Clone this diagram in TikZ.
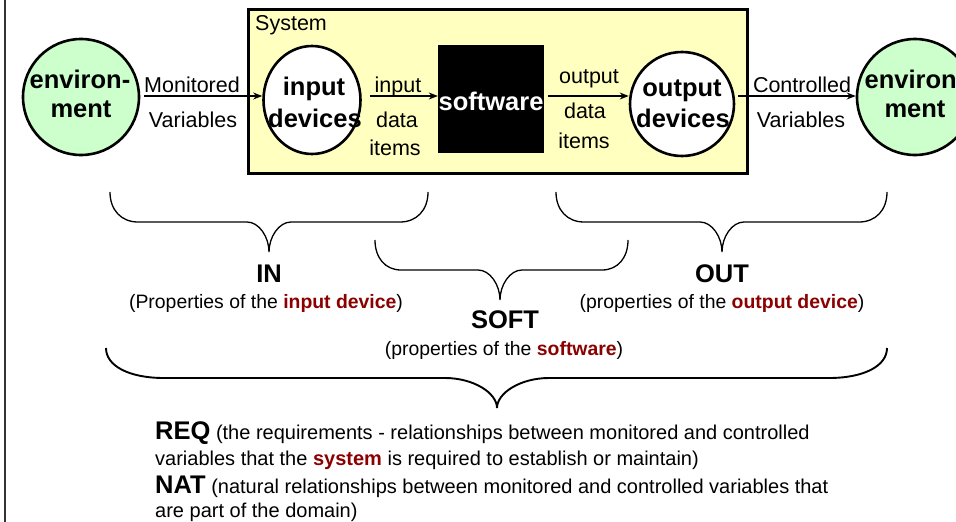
\documentclass[tikz,border=0pt]{standalone}
\usepackage{fontspec}
\setmainfont{Liberation Sans}
\usetikzlibrary{arrows.meta,shapes.geometric}

\definecolor{sysfill}{HTML}{FFFFC0}
\definecolor{envfill}{HTML}{CCFFCC}
\definecolor{hilite}{HTML}{8B0000}

% curly brace: left x, right x, top y, bar y, tip x, tip y, corner width, tip width, style
\newcommand\drawcurly[9]{%
  \draw[#9] (#1,#3) .. controls (#1,{#3+0.6*(#4-#3)}) and ({#1+0.4*#7},#4) .. ({#1+#7},#4)
    -- ({#5-#8},#4) .. controls ({#5-0.45*#8},#4) and (#5,{#4+0.5*(#6-#4)}) .. (#5,#6)
    .. controls (#5,{#4+0.5*(#6-#4)}) and ({#5+0.45*#8},#4) .. ({#5+#8},#4)
    -- ({#2-#7},#4) .. controls ({#2-0.4*#7},#4) and (#2,{#3+0.6*(#4-#3)}) .. (#2,#3);}

\begin{document}
\begin{tikzpicture}[x=1pt,y=-1pt,
  envcirc/.style={circle, draw, line width=2.6pt, fill=envfill, minimum size=116pt, inner sep=0pt},
  devcirc/.style={ellipse, draw, line width=2.6pt, fill=white, inner sep=0pt},
  sysbox/.style={rectangle, draw, line width=3pt, fill=sysfill, inner sep=0pt},
  swbox/.style={rectangle, fill=black, inner sep=0pt},
  lbl/.style={font=\fontsize{21.5}{25}\selectfont, inner sep=0pt, anchor=base},
  bigbf/.style={font=\fontsize{25.5}{30}\selectfont\bfseries, inner sep=0pt, anchor=base},
  prop/.style={font=\fontsize{19.4}{23}\selectfont, inner sep=0pt, anchor=base},
  reqtxt/.style={font=\fontsize{20}{24}\selectfont, inner sep=0pt, anchor=base west},
  arr/.style={line width=1.3pt, -{Stealth[length=9pt,width=7pt]}},
  thinbrace/.style={line width=1.3pt},
  widebrace/.style={line width=1.9pt}]
\useasboundingbox (0,0) rectangle (956,522);
\clip (0,0) rectangle (956,522);

% left frame rule
\draw[line width=2pt, black!80] (5,0) -- (5,522);

% system boundary
\node[sysbox, minimum width=499pt, minimum height=164pt] (sys) at (498,91.5) {};
\node[lbl, anchor=base west] (systitle) at (255,30) {System};

% environment on both sides
\node[envcirc] (envL) at (81,97) {};
\node[bigbf] (envLa) at (80,88) {environ-};
\node[bigbf] (envLb) at (81,117) {ment};

\node[envcirc] (envR) at (915,97) {};
\node[bigbf] (envRa) at (915,88) {environ-};
\node[bigbf] (envRb) at (915,117) {ment};

% devices and software
\node[devcirc, minimum width=97pt, minimum height=108pt] (inD) at (312,100) {};
\node[bigbf] (inDa) at (314,95) {input};
\node[bigbf] (inDb) at (315,127) {devices};

\node[swbox, minimum width=106pt, minimum height=108pt] (sw) at (491,99) {};
\node[bigbf, text=white] (swtxt) at (491,110) {software};

\node[devcirc, minimum width=104pt, minimum height=104pt] (outD) at (682,104) {};
\node[bigbf] (outDa) at (682,96) {output};
\node[bigbf] (outDb) at (683,127) {devices};

% signal flow
\coordinate (row) at (0,96);
\draw[arr, shorten <=4pt] (envL.east |- row) -- (inD.west |- row);
\draw[arr, shorten <=8pt] (inD.east |- row) -- (sw.west |- row);
\draw[arr, shorten <=4pt] (sw.east |- row) -- (outD.west |- row);
\draw[arr, shorten <=3pt] (outD.east |- row) -- (envR.west |- row);

\node[lbl] (monA) at (192,92) {Monitored};
\node[lbl] (monB) at (193,127) {Variables};
\node[lbl] (idA) at (398,92) {input};
\node[lbl] (idB) at (397,127) {data};
\node[lbl] (idC) at (395,155) {items};
\node[lbl] (odA) at (589,83) {output};
\node[lbl] (odB) at (585,118) {data};
\node[lbl] (odC) at (584,148) {items};
\node[lbl] (conA) at (802,92) {Controlled};
\node[lbl] (conB) at (801,127) {Variables};

% braces grouping the properties
\drawcurly{110}{428}{192}{222}{269}{252}{28}{22}{thinbrace}
\drawcurly{375}{628}{240}{270}{500}{300}{26}{22}{thinbrace}
\drawcurly{556}{887}{192}{222}{722}{252}{28}{22}{thinbrace}
\drawcurly{106}{887}{348}{378}{497}{408}{58}{52}{widebrace}

\node[bigbf] (inlbl) at (269,282) {IN};
\node[prop] (inprop) at (266,308) {(Properties of the \textbf{\color{hilite}input device})};
\node[bigbf] (outlbl) at (722,282) {OUT};
\node[prop] (outprop) at (722,308) {(properties of the \textbf{\color{hilite}output device})};
\node[bigbf] (softlbl) at (505,328) {SOFT};
\node[prop] (softprop) at (504,355) {(properties of the \textbf{\color{hilite}software})};

% requirement and nature relations
\node[reqtxt] (req1) at (155,439) {{\fontsize{25.5}{30}\selectfont\bfseries REQ} (the requirements - relationships between monitored and controlled};
\node[reqtxt] (req2) at (155,465) {variables that the \textbf{\color{hilite}system} is required to establish or maintain)};
\node[reqtxt] (nat1) at (155,493) {{\fontsize{25.5}{30}\selectfont\bfseries NAT} (natural relationships between monitored and controlled variables that};
\node[reqtxt] (nat2) at (155,517) {are part of the domain)};
\end{tikzpicture}
\end{document}
